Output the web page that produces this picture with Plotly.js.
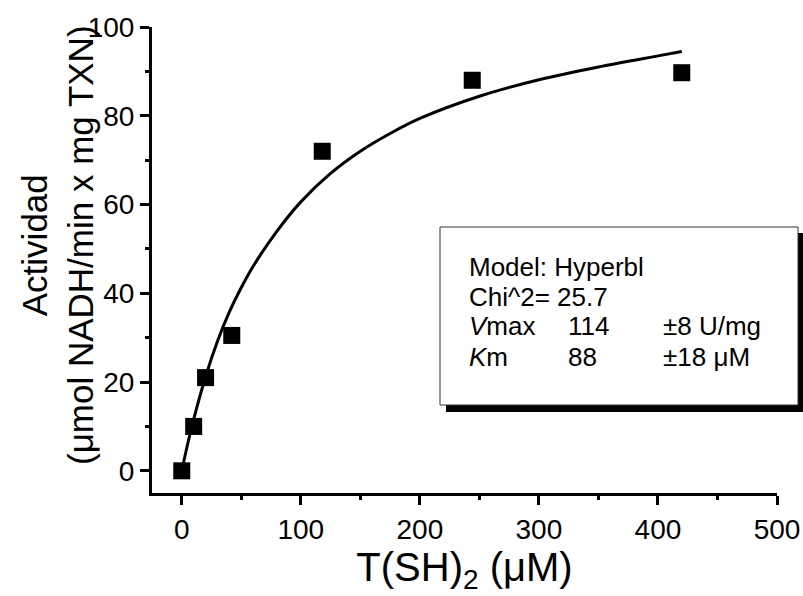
<!DOCTYPE html>
<html>
<head>
<meta charset="utf-8">
<script src="https://cdn.plot.ly/plotly-3.0.1.min.js"></script>
<style>html,body{margin:0;padding:0;background:#fff;}#plot{width:803px;height:596px;}</style>
</head>
<body>
<div id="plot"></div>
<script>
// Measured data
var concTSH = [0, 10, 20, 42, 118, 244, 420];
var activity = [0, 10, 21, 30.5, 72, 88, 89.7];
// Fitted hyperbola curve
var fitX = [0, 5, 10, 20, 30, 40, 50, 60, 80, 100, 125, 150, 175, 200, 250, 300, 350, 400, 420];
var fitY = [0, 6.1, 11.6, 21.2, 29.2, 35.8, 41.3, 46.1, 54.0, 60.6, 67.0, 72.0, 76.0, 79.4, 84.4, 88.1, 91.0, 93.5, 94.5];
var xTicks = [0, 100, 200, 300, 400, 500];
var yTicks = [0, 20, 40, 60, 80, 100];
var boxLines = ["Model: Hyperbl", "Chi^2= 25.7"];
var paramNames = ["<i>V</i>max", "<i>K</i>m"];
var paramValues = ["114", "88"];
var paramErrors = ["±8 U/mg", "±18 μM"];

var font = "Arial, 'Liberation Sans', sans-serif";

var traces = [
  {x: fitX, y: fitY, mode: "lines", line: {color: "#000", width: 3, shape: "spline", smoothing: 0.8}, hoverinfo: "skip"},
  {x: concTSH, y: activity, mode: "markers", marker: {symbol: "square", size: 17, color: "#000"}}
];

var L = 152, R = 777, T = 27, B = 493;
function px2x(p){ return (p - L) / (R - L); }
function py2y(p){ return (B - p) / (B - T); }

var annotations = [];
var rowY = [267, 297, 326, 357];
var tf = {family: font, size: 26, color: "#000"};
boxLines.forEach(function(t, i){
  annotations.push({xref: "paper", yref: "paper", x: px2x(467), y: py2y(rowY[i]), xanchor: "left", yanchor: "middle", text: t, showarrow: false, font: tf});
});
paramNames.forEach(function(t, i){
  annotations.push({xref: "paper", yref: "paper", x: px2x(467), y: py2y(rowY[i+2]), xanchor: "left", yanchor: "middle", text: t, showarrow: false, font: tf});
  annotations.push({xref: "paper", yref: "paper", x: px2x(566), y: py2y(rowY[i+2]), xanchor: "left", yanchor: "middle", text: paramValues[i], showarrow: false, font: tf});
  annotations.push({xref: "paper", yref: "paper", x: px2x(661), y: py2y(rowY[i+2]), xanchor: "left", yanchor: "middle", text: paramErrors[i], showarrow: false, font: tf});
});
// y-axis title
annotations.push({xref: "paper", yref: "paper", x: px2x(57), y: py2y(245), xanchor: "center", yanchor: "middle", textangle: -90,
  text: "Actividad<br>(μmol NADH/min x mg TXN)", showarrow: false, font: {family: font, size: 35, color: "#000"}});

var shapes = [
  {type: "rect", xref: "paper", yref: "paper", x0: px2x(446), x1: px2x(804), y0: py2y(412), y1: py2y(233), fillcolor: "#000", line: {width: 0}, layer: "above"},
  {type: "rect", xref: "paper", yref: "paper", x0: px2x(440), x1: px2x(798), y0: py2y(405), y1: py2y(227), fillcolor: "#fff", line: {color: "#333", width: 1}, layer: "above"}
];

var layout = {
  width: 803, height: 596,
  margin: {l: L, r: 803 - R, t: T, b: 596 - B},
  paper_bgcolor: "#fff", plot_bgcolor: "#fff",
  showlegend: false,
  font: {family: font, color: "#000"},
  xaxis: {
    range: [-25, 500], showgrid: false, zeroline: false,
    showline: true, linecolor: "#000", linewidth: 3,
    ticks: "outside", ticklen: 9, tickwidth: 3, tickcolor: "#000",
    tickvals: xTicks, ticktext: xTicks.map(String),
    tickfont: {family: font, size: 28},
    minor: {dtick: 50, tick0: 0, ticks: "outside", ticklen: 4, tickwidth: 3, tickcolor: "#000", showgrid: false},
    title: {text: "T(SH)<sub>2</sub> (μM)", font: {family: font, size: 40}, standoff: 10}
  },
  yaxis: {
    range: [-5, 100], showgrid: false, zeroline: false,
    showline: true, linecolor: "#000", linewidth: 3,
    ticks: "outside", ticklen: 9, tickwidth: 3, tickcolor: "#000",
    tickvals: yTicks, ticktext: yTicks.map(String),
    tickfont: {family: font, size: 28},
    minor: {dtick: 10, tick0: 0, ticks: "outside", ticklen: 4, tickwidth: 3, tickcolor: "#000", showgrid: false}
  },
  annotations: annotations,
  shapes: shapes
};

Plotly.newPlot("plot", traces, layout, {displayModeBar: false, staticPlot: true});
</script>
</body>
</html>
